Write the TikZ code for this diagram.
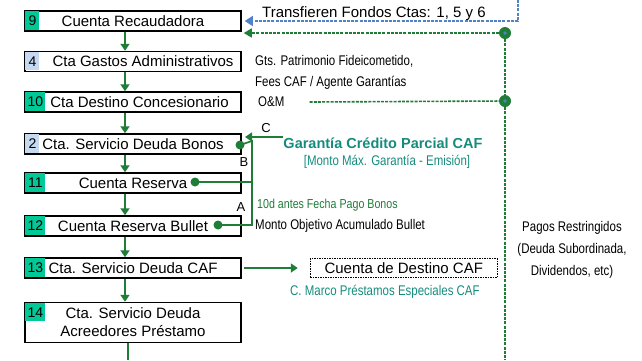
\documentclass[tikz,border=0pt]{standalone}
\usepackage{fontspec}
\setmainfont{Liberation Sans}
\newfontfamily\narrowfont[FakeStretch=0.82]{Liberation Sans}
\usepackage{tikz}
\usetikzlibrary{positioning,arrows.meta}
\definecolor{tagGreen}{RGB}{0,200,150}
\definecolor{tagBlue}{RGB}{197,217,241}
\definecolor{flowGreen}{RGB}{30,125,55}
\definecolor{capTeal}{RGB}{20,140,125}
\definecolor{lineBlue}{RGB}{80,130,200}
\tikzset{
  acct/.style={draw, line width=1.5pt, minimum width=216pt, minimum height=20pt, inner sep=0pt, align=center,
               font=\fontsize{15}{18}\selectfont},
  nudge/.style={execute at begin node={\hspace*{#1}}},
  tag/.style={anchor=north west, xshift=1pt, yshift=-1pt, minimum width=14pt, minimum height=18.5pt, inner sep=0pt,
              font=\fontsize{14}{16}\selectfont},
  wide/.style={minimum width=20pt},
  gtag/.style={tag, fill=tagGreen},
  btag/.style={tag, fill=tagBlue},
  fwd/.style={draw=flowGreen, line width=1.8pt, -{Triangle[width=9pt,length=7pt]}},
  link/.style={draw=flowGreen, line width=1.6pt},
  dot/.style={circle, fill=flowGreen, minimum size=9pt, inner sep=0pt},
  joint/.style={circle, fill=flowGreen, minimum size=12pt, inner sep=0pt,
                path picture={\fill[lineBlue] (path picture bounding box.center) circle (1.8pt);}}, % connector point
  gdash/.style={draw=flowGreen, line width=1.6pt, dash pattern=on 3pt off 1.2pt},
  bdash/.style={draw=lineBlue, line width=1.6pt, dash pattern=on 3pt off 1.2pt},
  destbox/.style={draw, line width=1pt, dash pattern=on 1.5pt off 1pt, minimum width=187pt, minimum height=19pt,
                  inner sep=0pt, font=\fontsize{15}{18}\selectfont},
  note/.style={inner sep=0pt, font=\narrowfont\fontsize{14}{16}\selectfont},
  letter/.style={inner sep=0pt, font=\fontsize{13}{15}\selectfont},
}
\begin{document}
\begin{tikzpicture}[x=1pt, y=-1pt]
  \useasboundingbox (0,0) rectangle (642,360);

  \node[acct] (cta9) at (133,21) {Cuenta Recaudadora};
  \node[acct, nudge=20pt] (cta4) [below=19pt of cta9] {Cta Gastos Administrativos};
  \node[acct, nudge=13pt] (cta10) [below=19pt of cta4] {Cta Destino Concesionario};
  \node[acct] (cta2) [below=20.5pt of cta10] {Cta. Servicio Deuda Bonos};
  \node[acct] (cta11) [below=17.5pt of cta2] {Cuenta Reserva};
  \node[acct] (cta12) [below=21.5pt of cta11] {Cuenta Reserva Bullet};
  \node[acct] (cta13) [below=20.5pt of cta12] {Cta. Servicio Deuda CAF};
  \node[acct, minimum height=40pt] (cta14) [below=23pt of cta13] {Cta. Servicio Deuda\\Acreedores Préstamo};

  \node[gtag] (n9) at (cta9.north west) {9};
  \node[btag] (n4) at (cta4.north west) {4};
  \node[gtag, wide] (n10) at (cta10.north west) {10};
  \node[btag] (n2) at (cta2.north west) {2};
  \node[gtag, wide] (n11) at (cta11.north west) {11};
  \node[gtag, wide] (n12) at (cta12.north west) {12};
  \node[gtag, wide] (n13) at (cta13.north west) {13};
  \node[gtag, wide] (n14) at (cta14.north west) {14};

  \draw[fwd] ([xshift=-8pt]cta9.south) -- ([xshift=-8pt]cta4.north);
  \draw[fwd] ([xshift=-8pt]cta4.south) -- ([xshift=-8pt]cta10.north);
  \draw[fwd] ([xshift=-8pt]cta10.south) -- ([xshift=-8pt]cta2.north);
  \draw[fwd] ([xshift=-8pt]cta2.south) -- ([xshift=-8pt]cta11.north);
  \draw[fwd] ([xshift=-8pt]cta11.south) -- ([xshift=-8pt]cta12.north);
  \draw[fwd] ([xshift=-8pt]cta12.south) -- ([xshift=-8pt]cta13.north);
  \draw[fwd] ([xshift=-8pt]cta13.south) -- ([xshift=-8pt]cta14.north);
  \coordinate (exit) at (128,360);
  \draw[link] (cta14.south -| exit) -- (exit);

  \node[anchor=west, inner sep=0pt, font=\fontsize{15}{18}\selectfont] (trans) at (262,14) {Transfieren Fondos Ctas: 1, 5 y 6};
  \coordinate (feed) at (518,0);
  \draw[bdash, -{Triangle[width=10pt,length=8pt]}, shorten >=3pt] (feed) |- (cta9.east);

  \node[joint] (j1) at (505,33) {};
  \node[joint] (j2) at (505,101) {};
  \coordinate (drop) at (505,360);
  \draw[gdash, -{Triangle[width=9pt,length=8pt]}, shorten >=2pt] (j1) -- (j1 -| cta9.east);
  \draw[gdash] (j1) -- (j2) -- (drop);

  \node[note, anchor=west] (gts) at (255,61) {Gts. Patrimonio Fideicometido,};
  \node[note, anchor=west] (fees) at (255,83) {Fees CAF / Agente Garantías};
  \node[note, anchor=west] (om) at (258,102) {O\&M};
  \draw[gdash] ([xshift=25pt]om.east) -- (j2);

  \node[inner sep=0pt, text=capTeal, font=\bfseries\fontsize{14.5}{17}\selectfont] (gar) at (383,143) {Garantía Crédito Parcial CAF};
  \node[note, text=capTeal] (tope) at (387,162) {[Monto Máx. Garantía - Emisión]};
  \coordinate (cin) at (245,137);
  \draw[fwd, line width=1.6pt] (cin -| gar.west) -- (cin);
  \node[letter] (lc) at (266,128) {C};

  \node[dot] (d2) at (240,145) {};
  \node[dot] (d11) at (195,182) {};
  \node[dot] (d12) at (218,225) {};
  \coordinate (bus) at (252,141);
  \draw[link] (d12.center) -| (bus) -- (d2.center);
  \draw[link] (d11.center) -- (d11 -| bus);
  \node[letter] (lb) at (244,162) {B};
  \node[letter] (la) at (241,207) {A};
  \node[note, anchor=west, text=flowGreen, font=\narrowfont\fontsize{13}{15}\selectfont] (diez) at (257,205) {10d antes Fecha Pago Bonos};
  \node[note, anchor=west] (obj) at (255,226) {Monto Objetivo Acumulado Bullet};

  \node[destbox] (dest) [right=68pt of cta13] {Cuenta de Destino CAF};
  \draw[fwd, line width=2pt, shorten >=12pt, shorten <=2pt] (cta13.east) -- (dest.west);
  \node[note, anchor=west, text=capTeal] (marco) at (290,292) {C. Marco Préstamos Especiales CAF};

  \node[note, align=center, font=\narrowfont\fontsize{14}{22}\selectfont] (pagos) at (572,250) {Pagos Restringidos\\(Deuda Subordinada,\\Dividendos, etc)};

\end{tikzpicture}
\end{document}
